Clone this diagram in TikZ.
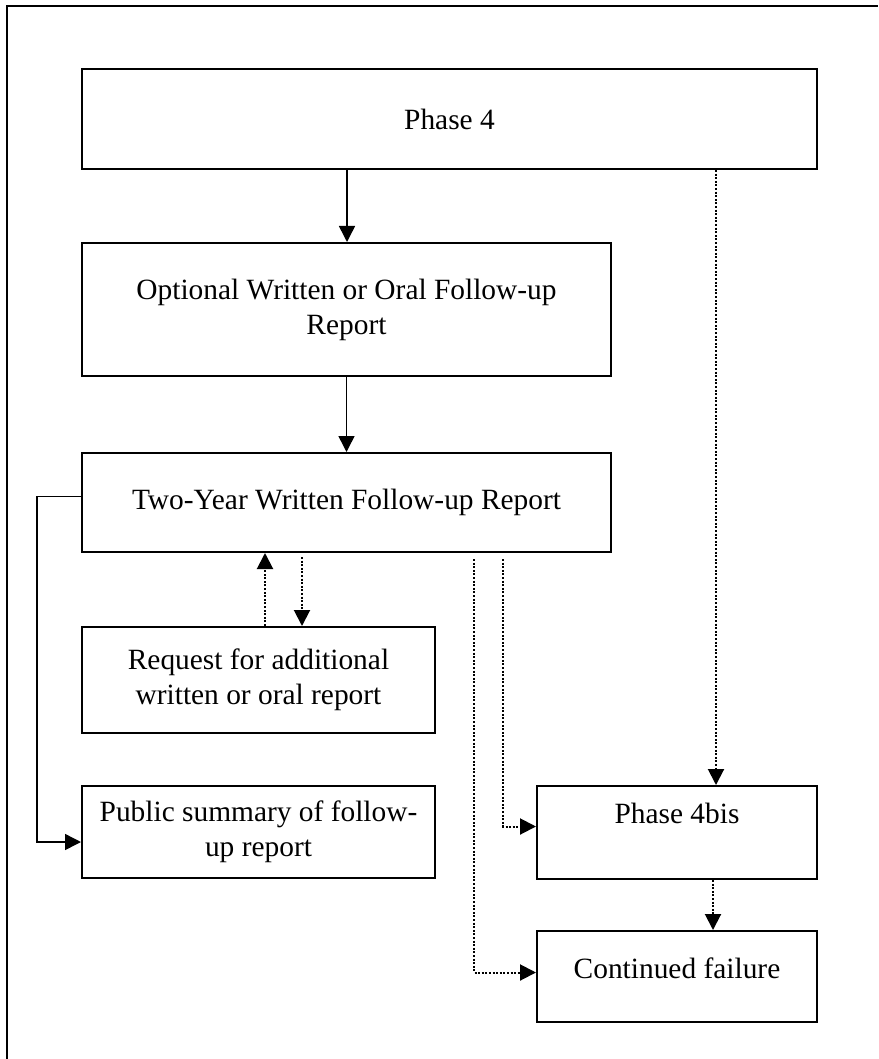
\documentclass[tikz,border=0pt]{standalone}
\usepackage{fontspec}
\setmainfont{Liberation Serif}
\usetikzlibrary{arrows.meta, calc}
\tikzset{
  stage/.style={draw=black, line width=1pt, inner sep=0pt, align=center,
    font=\fontsize{14.7}{17.5}\selectfont},
  flow/.style={-{Triangle[width=8pt,length=8pt]}, line width=0.75pt},
  maybe/.style={-{Triangle[width=8pt,length=8pt]}, line width=1pt,
    dash pattern=on 1pt off 0.8pt},
  frame/.style={line width=1pt}
}

\begin{document}
\begin{tikzpicture}[x=0.5pt, y=-0.5pt]
  \useasboundingbox (0,0) rectangle (878,1059);
  \draw[frame] (7,1059) -- (7,6) -- (878,6);

  \node[stage, minimum width=367.5pt, minimum height=50pt] (phasefour) at (449.5,119) {Phase 4};
  \node[stage, minimum width=264.5pt, minimum height=66.5pt] (optional) at (346.5,309.5)
    {Optional Written or Oral Follow-up\\Report};
  \node[stage, minimum width=264.5pt, minimum height=49.5pt] (twoyear) at (346.5,502.5)
    {Two-Year Written Follow-up Report};
  \node[stage, minimum width=176.5pt, minimum height=53pt] (request) at (258.5,680)
    {Request for additional\\written or oral report};
  \node[stage, minimum width=176.5pt, minimum height=46pt] (public) at (258.5,832)
    {Public summary of follow-\\up report};
  \node[stage, minimum width=140pt, inner ysep=0pt, text height=18.5pt, text depth=28pt]
    (phasebis) at (677,832.5) {Phase 4bis};
  \node[stage, minimum width=140pt, inner ysep=0pt, text height=23.5pt, text depth=22pt]
    (continued) at (677,976.5) {Continued failure};

  % main line
  \draw[flow] ([xshift=-51.25pt]phasefour.south) -- ([xshift=-51.25pt]phasefour.south |- optional.north);
  \draw[flow] (optional.south) -- (twoyear.north);
  \draw[flow] ([yshift=3pt]twoyear.west) -- ++(-22pt,0) |- ([yshift=-5pt]public.west);

  % optional routes
  \draw[maybe] ([xshift=-40.75pt]twoyear.south |- request.north) -- ([xshift=-40.75pt]twoyear.south);
  \draw[maybe, shorten <=2pt] ([xshift=-22.25pt]twoyear.south) -- ([xshift=-22.25pt]twoyear.south |- request.north);
  \draw[maybe] ([xshift=133.25pt]phasefour.south) -- ([xshift=133.25pt]phasefour.south |- phasebis.north);
  \draw[maybe, shorten <=3pt] ([xshift=78.25pt]twoyear.south) |- ([yshift=3pt]phasebis.west);
  \draw[maybe, shorten <=3pt] ([xshift=63.75pt]twoyear.south) |- ([yshift=2pt]continued.west);
  \draw[maybe] ([xshift=18pt]phasebis.south) -- ([xshift=18pt]phasebis.south |- continued.north);

\end{tikzpicture}
\end{document}
